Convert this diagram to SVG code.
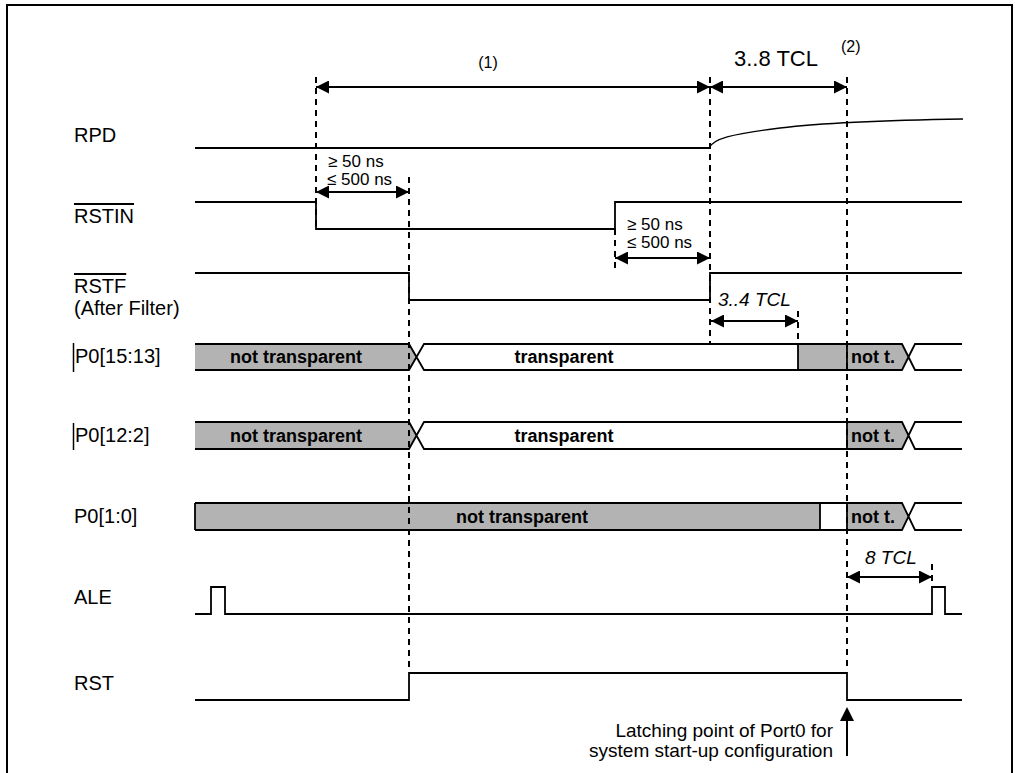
<svg xmlns="http://www.w3.org/2000/svg" width="1015" height="773" viewBox="0 0 1015 773">
<style>
.sig{fill:none;stroke:#000;stroke-width:1.8}
.thin{fill:none;stroke:#000;stroke-width:1.3}
.dash{stroke:#000;stroke-width:2;stroke-dasharray:6 5}
.dim{stroke:#000;stroke-width:2;marker-start:url(#ah);marker-end:url(#ah)}
.grey{fill:#b3b3b3;stroke:none}
text{font-family:"Liberation Sans",Arial,Helvetica,sans-serif;fill:#000}
.lbl{font-size:20px}
.bus{font-size:18px;font-weight:bold}
.dl{font-size:19px}
.ns{font-size:17px}
.it{font-size:19px;font-style:italic}
.ov{text-decoration:overline}
</style>
<defs>
<marker id="ah" markerUnits="userSpaceOnUse" markerWidth="13" markerHeight="13" refX="12" refY="6" orient="auto-start-reverse" viewBox="0 0 12 12">
<path d="M0,0 L12,6 L0,12 z" fill="#000"/>
</marker>
</defs>
<rect x="7" y="5" width="1005" height="800" fill="#fff" stroke="#000" stroke-width="2"/>

<g id="RPD">
<text class="lbl" x="74" y="142">RPD</text>
<path class="sig" d="M195,148 H709"/>
<path class="thin" d="M709,148 C713,139 730,134 780,128 C830,122 900,120 963,119"/>
</g>

<g id="RSTIN">
<text class="lbl ov" x="74" y="223">RSTIN</text>
<path class="sig" d="M195,202 H316 V229 H615 V202 H962"/>
</g>

<g id="RSTF">
<text class="lbl ov" x="74" y="293">RSTF</text>
<text class="lbl" x="74" y="315">(After Filter)</text>
<path class="sig" d="M195,273 H409 V300 H710 V273 H962"/>
</g>

<g id="P0_15_13">
<line x1="73.5" y1="343" x2="73.5" y2="372" stroke="#000" stroke-width="1.5"/>
<text class="lbl" x="75" y="363">P0[15:13]</text>
<polygon class="grey" points="195,344 409,344 416.5,357 409,370 195,370"/>
<polygon class="grey" points="798,344 902,344 908.5,357 902,370 798,370"/>
<path class="sig" d="M195,344 H409 L424,370 H902 L915,344 H962 M195,370 H409 L424,344 H902 L915,370 H962 M798,344 V370 M847,344 V370"/>
<text class="bus" x="296" y="363" text-anchor="middle">not transparent</text>
<text class="bus" x="564" y="363" text-anchor="middle">transparent</text>
<text class="bus" x="851" y="363">not t.</text>
</g>

<g id="P0_12_2">
<line x1="73.5" y1="423" x2="73.5" y2="450" stroke="#000" stroke-width="1.5"/>
<text class="lbl" x="75" y="442">P0[12:2]</text>
<polygon class="grey" points="195,422 409,422 416.5,435.5 409,449 195,449"/>
<polygon class="grey" points="847,422 902,422 908.5,435.5 902,449 847,449"/>
<path class="sig" d="M195,422 H409 L424,449 H902 L915,422 H962 M195,449 H409 L424,422 H902 L915,449 H962 M847,422 V449"/>
<text class="bus" x="296" y="442" text-anchor="middle">not transparent</text>
<text class="bus" x="564" y="442" text-anchor="middle">transparent</text>
<text class="bus" x="851" y="442">not t.</text>
</g>

<g id="P0_1_0">
<text class="lbl" x="74" y="523">P0[1:0]</text>
<rect class="grey" x="195" y="503" width="625" height="27"/>
<polygon class="grey" points="847,503 902,503 908.5,516.5 902,530 847,530"/>
<path class="sig" d="M195,503 H902 L915,530 H962 M195,530 H902 L915,503 H962 M195,503 V530 M820,503 V530 M847,503 V530"/>
<text class="bus" x="522" y="523" text-anchor="middle">not transparent</text>
<text class="bus" x="851" y="523">not t.</text>
</g>

<g id="ALE">
<text class="lbl" x="74" y="604">ALE</text>
<path class="sig" d="M195,614 H211 V587 H225 V614 H932 V587 H945 V614 H962"/>
</g>

<g id="RST">
<text class="lbl" x="74" y="690">RST</text>
<path class="sig" d="M195,700 H409 V673 H847 V700 H962"/>
</g>

<g id="latch">
<text class="dl" x="833" y="737" text-anchor="end">Latching point of Port0 for</text>
<text class="dl" x="833" y="757" text-anchor="end">system start-up configuration</text>
</g>

<g id="connectors">
<line class="dash" x1="316" y1="77" x2="316" y2="231"/>
<line class="dash" x1="409" y1="177" x2="409" y2="668"/>
<line class="dash" x1="615" y1="229" x2="615" y2="268"/>
<line class="dash" x1="710" y1="77" x2="710" y2="343"/>
<line class="dash" x1="798" y1="311" x2="798" y2="343"/>
<line class="dash" x1="847" y1="77" x2="847" y2="670"/>
<line class="dash" x1="932" y1="564" x2="932" y2="587"/>

<line class="dim" x1="316" y1="87" x2="710" y2="87"/>
<line class="dim" x1="710" y1="87" x2="847" y2="87"/>
<line class="dim" x1="316" y1="192" x2="409" y2="192"/>
<line class="dim" x1="615" y1="258" x2="710" y2="258"/>
<line class="dim" x1="711" y1="321" x2="798" y2="321"/>
<line class="dim" x1="847" y1="577" x2="932" y2="577"/>

<line x1="847" y1="756" x2="847" y2="716" stroke="#000" stroke-width="2"/>
<polygon points="847,707 840,721 854,721" fill="#000"/>

<text x="488" y="68" text-anchor="middle" style="font-size:16px">(1)</text>
<text x="776" y="66" text-anchor="middle" style="font-size:22px">3..8 TCL</text>
<text x="841" y="52" style="font-size:16px">(2)</text>
<text class="ns" x="328" y="167">≥ 50 ns</text>
<text class="ns" x="327" y="185">≤ 500 ns</text>
<text class="ns" x="627" y="230">≥ 50 ns</text>
<text class="ns" x="627" y="248">≤ 500 ns</text>
<text class="it" x="718" y="306">3..4 TCL</text>
<text class="it" x="865" y="564">8 TCL</text>
</g>
</svg>
